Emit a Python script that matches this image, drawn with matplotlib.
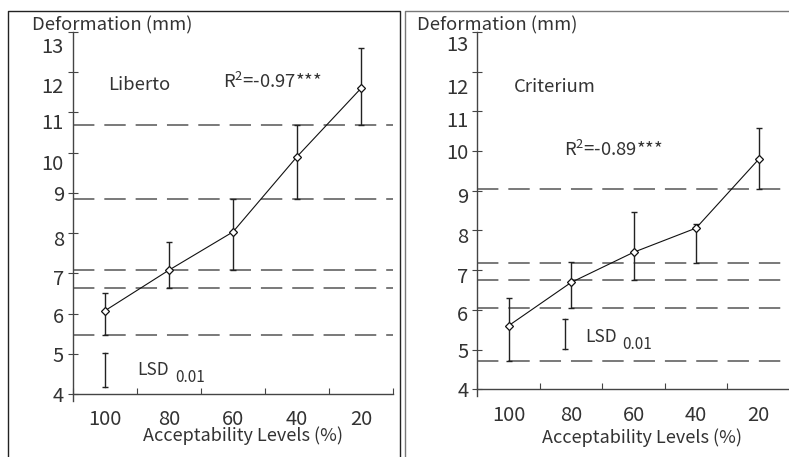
import matplotlib
matplotlib.use("Agg")
import matplotlib.pyplot as plt
from matplotlib.transforms import ScaledTranslation
import numpy as np

plt.rcParams['font.family'] = ['Noto Sans CJK JP', 'DejaVu Sans']
plt.rcParams['mathtext.fontset'] = 'custom'
plt.rcParams['mathtext.rm'] = 'Noto Sans CJK JP'
plt.rcParams['mathtext.default'] = 'regular'

levels = ['100', '80', '60', '40', '20']

# Liberto
lib_mean = [6.07, 7.08, 8.03, 9.90, 11.60]
lib_low = [5.46, 6.63, 7.08, 8.85, 10.68]
lib_high = [6.50, 7.78, 8.85, 10.68, 12.60]
lib_lsd = [4.18, 5.01]

# Criterium
cri_mean = [5.60, 6.69, 7.45, 8.06, 9.79]
cri_low = [4.72, 6.04, 6.75, 7.19, 9.04]
cri_high = [6.31, 7.21, 8.46, 8.16, 10.57]
cri_lsd = [5.02, 5.77]

TXT = '#333333'
W, H = 789, 457
fig = plt.figure(figsize=(W / 100, H / 100), dpi=100)


def px(x0, x1, ytop, ybot):
    return [x0 / W, 1 - ybot / H, (x1 - x0) / W, (ybot - ytop) / H]


def panel(rect, mean, low, high, lsd, lsd_x, name, name_xy, r2, r2_xy,
          lsd_txt_xy, ylab_shift, xlab_xy):
    ax = fig.add_axes(rect)
    x = np.arange(len(mean))
    mean = np.array(mean)
    yerr = [mean - np.array(low), np.array(high) - mean]
    for y in low:
        ax.axhline(y, color='#555555', lw=1.1, ls=(0, (14, 6.5)), zorder=1)
    ax.errorbar(x, mean, yerr=yerr, fmt='none', ecolor='#222222',
                elinewidth=1.0, capsize=2.2, capthick=1.0, zorder=2)
    ax.plot(x, mean, color='#111111', lw=0.8, marker='D', ms=4.5,
            mfc='white', mec='#111111', mew=0.9, zorder=3)
    ax.plot([lsd_x, lsd_x], lsd, color='#222222', lw=1.0, zorder=2)
    ax.plot([lsd_x], [lsd[0]], marker='_', ms=5, color='#222222', mew=1.0)
    ax.plot([lsd_x], [lsd[1]], marker='_', ms=5, color='#222222', mew=1.0)

    ax.set_xlim(-0.5, 4.5)
    ax.set_ylim(3.82, 13)
    for s in ['top', 'right']:
        ax.spines[s].set_visible(False)
    ax.spines['bottom'].set_position(('data', 4))
    for s in ['left', 'bottom']:
        ax.spines[s].set_color('#444444')
        ax.spines[s].set_linewidth(1.0)
    ax.set_yticks(range(4, 14))
    ax.set_xticks(np.arange(-0.5, 5, 1))
    ax.set_xticklabels([])
    ax.set_xticks(x, minor=True)
    ax.set_xticklabels(levels, minor=True)
    ax.tick_params(axis='x', which='major', direction='in', length=4,
                   color='#444444')
    ax.tick_params(axis='x', which='minor', length=0, pad=11, labelsize=14.5,
                   labelcolor=TXT)
    ax.tick_params(axis='y', direction='inout', length=7, color='#444444',
                   labelsize=14.5, labelcolor=TXT, pad=3)
    # the printed y labels sit slightly below their ticks
    for lab, dy in zip(ax.get_yticklabels(), ylab_shift):
        lab.set_transform(lab.get_transform() +
                          ScaledTranslation(0, dy / 100, fig.dpi_scale_trans))
    fig.text(xlab_xy[0] / W, 1 - xlab_xy[1] / H, 'Acceptability Levels (%)',
             fontsize=13, color=TXT, ha='center', va='baseline')
    ax.text(name_xy[0], name_xy[1], name, fontsize=13.3, color=TXT,
            va='center')
    ax.text(r2_xy[0], r2_xy[1], r'R$^{2}$' + r2, fontsize=13.3, color=TXT,
            va='center')
    t = ax.text(lsd_txt_xy[0], lsd_txt_xy[1], 'LSD', fontsize=12.5,
                color=TXT, va='center')
    ax.annotate('0.01', xy=(1, 0), xycoords=t, xytext=(4, -5),
                textcoords='offset points', fontsize=11, color=TXT,
                va='bottom')
    return ax


panel(px(73, 393, 32, 401.2), lib_mean, lib_low, lib_high, lib_lsd, 0.0,
      'Liberto', (0.05, 11.69), '=-0.97***', (1.84, 11.76), (0.51, 4.6),
      [0, 0, -1, -4, -5, 0, -9, -9, -13, -13], (243, 441))
panel(px(477.3, 789.8, 32, 396.4), cri_mean, cri_low, cri_high, cri_lsd, 0.91,
      'Criterium', (0.09, 11.62), '=-0.89***', (0.88, 10.03), (1.23, 5.32),
      [0, 0, -3, -5, -5, -4, 0, -8, -14, -11], (642.5, 443))

fig.text(32 / W, 1 - 25 / H, 'Deformation (mm)', fontsize=13.3, color=TXT,
         va='center')
fig.text(417 / W, 1 - 25 / H, 'Deformation (mm)', fontsize=13.3, color=TXT,
         va='center')

# panel frames
fig.add_artist(plt.Line2D(np.array([8, 8, 400, 400]) / W,
                          1 - np.array([457, 11, 11, 457]) / H,
                          color='#222222', lw=1.0))
fig.add_artist(plt.Line2D(np.array([405, 405, 789]) / W,
                          1 - np.array([457, 11, 11]) / H,
                          color='#777777', lw=1.0))

fig.savefig('out.png', dpi=100)
